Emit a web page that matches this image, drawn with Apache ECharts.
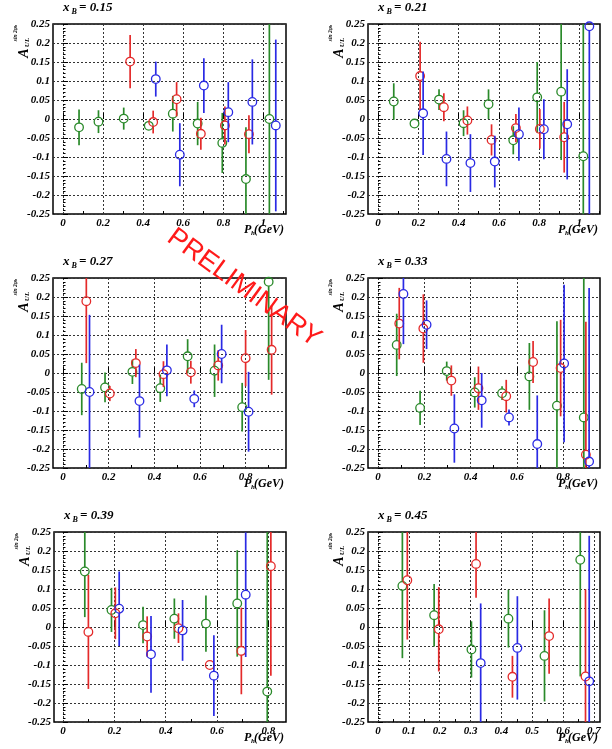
<!DOCTYPE html>
<html><head><meta charset="utf-8">
<script src="https://cdn.jsdelivr.net/npm/echarts@6/dist/echarts.min.js"></script>
<style>html,body{margin:0;padding:0;background:#fff}#c{width:612px;height:749px}</style>
</head><body><div id="c"></div>
<script>
// ---- data: each point is [P_h (GeV), A_UL^{sin2phi_h}, stat. error] ----
const xBvalues = ['0.15', '0.21', '0.27', '0.33', '0.39', '0.45'];

const green015 = [[0.08,-0.022,0.047],[0.177,-0.007,0.03],[0.303,0.001,0.029],[0.428,-0.018,0.008],[0.548,0.014,0.047],[0.672,-0.012,0.057],[0.795,-0.063,0.079],[0.913,-0.158,0.136],[1.03,0.0,0.3]];
const red015   = [[0.335,0.151,0.07],[0.45,-0.008,0.03],[0.567,0.052,0.045],[0.688,-0.039,0.042],[0.808,-0.017,0.05],[0.928,-0.040,0.05]];
const blue015  = [[0.463,0.105,0.046],[0.583,-0.094,0.083],[0.703,0.088,0.072],[0.825,0.018,0.079],[0.945,0.045,0.112],[1.062,-0.017,0.226]];

const green021 = [[0.078,0.046,0.048],[0.181,-0.012,0.005],[0.303,0.051,0.027],[0.425,-0.011,0.034],[0.549,0.039,0.039],[0.672,-0.056,0.037],[0.791,0.057,0.093],[0.91,0.072,0.18],[1.02,-0.098,0.4]];
const red021   = [[0.209,0.113,0.09],[0.327,0.031,0.037],[0.444,-0.004,0.037],[0.564,-0.055,0.041],[0.685,-0.024,0.037],[0.804,-0.026,0.052],[0.925,-0.048,0.093]];
const blue021  = [[0.224,0.015,0.11],[0.34,-0.105,0.072],[0.459,-0.116,0.076],[0.58,-0.112,0.068],[0.7,-0.04,0.07],[0.824,-0.027,0.079],[0.94,-0.014,0.145],[1.05,0.244,0.55]];

const green027 = [[0.082,-0.042,0.069],[0.184,-0.038,0.039],[0.304,0.003,0.032],[0.426,-0.04,0.036],[0.546,0.044,0.045],[0.664,0.006,0.069],[0.785,-0.09,0.064],[0.901,0.24,0.258]];
const red027   = [[0.102,0.189,0.163],[0.205,-0.054,0.02],[0.319,0.026,0.037],[0.44,-0.003,0.034],[0.56,0.002,0.03],[0.68,0.02,0.04],[0.8,0.039,0.074],[0.914,0.061,0.118]];
const blue027  = [[0.116,-0.05,0.203],[0.335,-0.074,0.096],[0.455,0.007,0.068],[0.575,-0.068,0.022],[0.695,0.05,0.077],[0.813,-0.102,0.105]];

const green033 = [[0.081,0.074,0.082],[0.182,-0.092,0.045],[0.297,0.005,0.025],[0.418,-0.051,0.04],[0.536,-0.053,0.018],[0.654,-0.009,0.088],[0.773,-0.086,0.222],[0.889,-0.117,0.4]];
const red033   = [[0.092,0.13,0.094],[0.196,0.117,0.09],[0.317,-0.02,0.04],[0.434,-0.04,0.057],[0.554,-0.061,0.043],[0.67,0.029,0.055],[0.789,0.013,0.127],[0.898,-0.215,0.35]];
const blue033  = [[0.11,0.208,0.132],[0.21,0.127,0.064],[0.33,-0.146,0.09],[0.448,-0.072,0.072],[0.566,-0.117,0.021],[0.688,-0.187,0.128],[0.804,0.025,0.207],[0.912,-0.233,0.457]];

const green039 = [[0.085,0.146,0.12],[0.189,0.045,0.058],[0.312,0.005,0.048],[0.434,0.022,0.053],[0.557,0.009,0.074],[0.679,0.062,0.14],[0.796,-0.17,0.42]];
const red039   = [[0.099,-0.013,0.15],[0.204,0.036,0.068],[0.328,-0.025,0.053],[0.45,-0.003,0.039],[0.572,-0.1,0.009],[0.695,-0.063,0.114],[0.81,0.16,0.288]];
const blue039  = [[0.219,0.048,0.098],[0.343,-0.072,0.101],[0.466,-0.009,0.08],[0.588,-0.128,0.106],[0.712,0.085,0.164]];

const green045 = [[0.079,0.108,0.19],[0.182,0.031,0.082],[0.303,-0.059,0.074],[0.423,0.022,0.076],[0.54,-0.076,0.12],[0.656,0.177,0.307]];
const red045   = [[0.095,0.123,0.156],[0.197,-0.006,0.111],[0.318,0.166,0.089],[0.436,-0.131,0.055],[0.555,-0.024,0.099],[0.673,-0.13,0.229]];
const blue045  = [[0.333,-0.095,0.157],[0.452,-0.055,0.136],[0.685,-0.143,0.383]];

// tick labels
const xTicksA = [0, 0.2, 0.4, 0.6, 0.8, 1];
const xMinorA = [0.1, 0.3, 0.5, 0.7, 0.9, 1.1];
const xTicksB = [0, 0.2, 0.4, 0.6, 0.8];
const xMinorB = [0.1, 0.3, 0.5, 0.7, 0.9];
const xTicksC = [0, 0.1, 0.2, 0.3, 0.4, 0.5, 0.6, 0.7];
const xMinorC = [0.05, 0.15, 0.25, 0.35, 0.45, 0.55, 0.65];

const panelData = [
  [green015, red015, blue015],
  [green021, red021, blue021],
  [green027, red027, blue027],
  [green033, red033, blue033],
  [green039, red039, blue039],
  [green045, red045, blue045]
];
const panelTicks = [[xTicksA, xMinorA],[xTicksA, xMinorA],[xTicksB, xMinorB],[xTicksB, xMinorB],[xTicksB, xMinorB],[xTicksC, xMinorC]];

// ---- layout ----
const layout = [
  {left:53, top:24, width:233, height:190, xmin:-0.05, xmax:1.113},
  {left:368, top:24, width:232, height:190, xmin:-0.05, xmax:1.103},
  {left:53, top:278, width:233, height:190, xmin:-0.044, xmax:0.977},
  {left:368, top:278, width:232, height:190, xmin:-0.043, xmax:0.959},
  {left:54, top:532, width:232, height:190, xmin:-0.035, xmax:0.869},
  {left:368, top:532, width:232, height:190, xmin:-0.0325, xmax:0.72}
];
const colors = ['#2a8a2a', '#e42a2a', '#2a2ae4'];
const serif = '"Liberation Serif", "DejaVu Serif", serif';
const lblStyle = {fontFamily: serif, fontWeight: 'bold', fontStyle: 'italic', fontSize: 11, color: '#000'};

function errRender(color) {
  return function (params, api) {
    const x = api.value(0), y = api.value(1), e = api.value(2);
    const c = api.coord([x, y]);
    const top = api.coord([x, y + e])[1];
    const bot = api.coord([x, y - e])[1];
    const cs = params.coordSys;
    const yMin = cs.y, yMax = cs.y + cs.height;
    const r = 4.3;
    const t = Math.max(top, yMin), b = Math.min(bot, yMax);
    const ch = [];
    const ls = {stroke: color, lineWidth: 1.7};
    if (t < c[1] - r) ch.push({type: 'line', shape: {x1: c[0], y1: t, x2: c[0], y2: Math.min(c[1] - r, yMax)}, style: ls});
    if (b > c[1] + r) ch.push({type: 'line', shape: {x1: c[0], y1: Math.max(c[1] + r, yMin), x2: c[0], y2: b}, style: ls});
    ch.push({type: 'circle', shape: {cx: c[0], cy: c[1], r: r}, style: {fill: 'transparent', stroke: color, lineWidth: 1.3}});
    return {type: 'group', children: ch};
  };
}

const grid = [], xAxis = [], yAxis = [], series = [], graphic = [];
layout.forEach((L, i) => {
  grid.push({left: L.left, top: L.top, width: L.width, height: L.height, show: true, borderColor: '#000', borderWidth: 1.5, backgroundColor: 'transparent'});
  xAxis.push({
    type: 'value', gridIndex: i, position: 'bottom', min: L.xmin, max: L.xmax,
    axisLine: {show: false},
    axisTick: {show: true, inside: true, length: 6, customValues: panelTicks[i][0], lineStyle: {color: '#000', width: 1}},
    axisLabel: Object.assign({margin: 4, customValues: panelTicks[i][0]}, lblStyle),
    splitLine: {show: true, lineStyle: {type: [2, 2], color: '#333', width: 1}}
  });
  xAxis.push({
    type: 'value', gridIndex: i, position: 'bottom', min: L.xmin, max: L.xmax,
    axisLine: {show: false},
    axisTick: {show: true, inside: true, length: 3, customValues: panelTicks[i][1], lineStyle: {color: '#000', width: 1}},
    axisLabel: {show: false, customValues: panelTicks[i][1]},
    splitLine: {show: false}
  });
  yAxis.push({
    type: 'value', gridIndex: i, min: -0.25, max: 0.25, interval: 0.05,
    axisLine: {show: false},
    axisTick: {show: true, inside: true, length: 5, lineStyle: {color: '#000', width: 1}},
    minorTick: {show: true, splitNumber: 5, length: 2.5, lineStyle: {color: '#000', width: 1}},
    axisLabel: Object.assign({margin: 3}, lblStyle),
    splitLine: {show: true, lineStyle: {type: [2, 2], color: '#333', width: 1}}
  });
  panelData[i].forEach((d, k) => {
    series.push({type: 'custom', xAxisIndex: 2 * i, yAxisIndex: i, data: d, renderItem: errRender(colors[k]), silent: true});
  });
  const tf = 'bold italic 13px ' + serif;
  // panel title x_B = ...
  graphic.push({type: 'text', x: L.left + 10, y: L.top - 16, style: {text: 'x', font: tf, fill: '#000', verticalAlign: 'middle'}});
  graphic.push({type: 'text', x: L.left + 18.5, y: L.top - 12, style: {text: 'B', font: 'bold italic 8px ' + serif, fill: '#000', verticalAlign: 'middle'}});
  graphic.push({type: 'text', x: L.left + 26, y: L.top - 16, style: {text: '= ' + xBvalues[i], font: tf, fill: '#000', verticalAlign: 'middle'}});
  // y-axis title A_UL^{sin 2phi_h}
  graphic.push({type: 'text', x: L.left - 29, y: L.top + 29, rotation: Math.PI / 2, style: {text: 'A', font: 'bold italic 14px ' + serif, fill: '#000', align: 'center', verticalAlign: 'middle'}});
  graphic.push({type: 'text', x: L.left - 25.5, y: L.top + 18.5, rotation: Math.PI / 2, style: {text: 'UL', font: 'bold italic 7px ' + serif, fill: '#000', align: 'center', verticalAlign: 'middle'}});
  graphic.push({type: 'text', x: L.left - 37, y: L.top + 9, rotation: Math.PI / 2, style: {text: 'sin 2φ{h|h}', font: 'bold italic 5.5px ' + serif, fill: '#000', align: 'center', verticalAlign: 'middle', rich: {h: {fontSize: 4, fontFamily: serif, fontWeight: 'bold', fontStyle: 'italic'}}}});
  // x-axis title P_h(GeV)
  const bx = L.left + L.width, by = L.top + L.height + 16;
  graphic.push({type: 'text', x: bx - 42, y: by, style: {text: 'P', font: 'bold italic 12px ' + serif, fill: '#000', verticalAlign: 'middle'}});
  graphic.push({type: 'text', x: bx - 35, y: by + 3, style: {text: 'h', font: 'bold italic 7px ' + serif, fill: '#000', verticalAlign: 'middle'}});
  graphic.push({type: 'text', x: bx - 2, y: by, style: {text: '(GeV)', font: 'bold italic 12px ' + serif, fill: '#000', align: 'right', verticalAlign: 'middle'}});
});
graphic.push({type: 'text', x: 244, y: 288, rotation: -36 * Math.PI / 180, z: 100,
  style: {text: 'PRELIMINARY', font: '27px "Liberation Sans", Arial, sans-serif', fill: '#ff1a1a', align: 'center', verticalAlign: 'middle'}});

const chart = echarts.init(document.getElementById('c'), null, {renderer: 'canvas'});
chart.setOption({animation: false, backgroundColor: '#fff', grid, xAxis, yAxis, series, graphic});
</script></body></html>
